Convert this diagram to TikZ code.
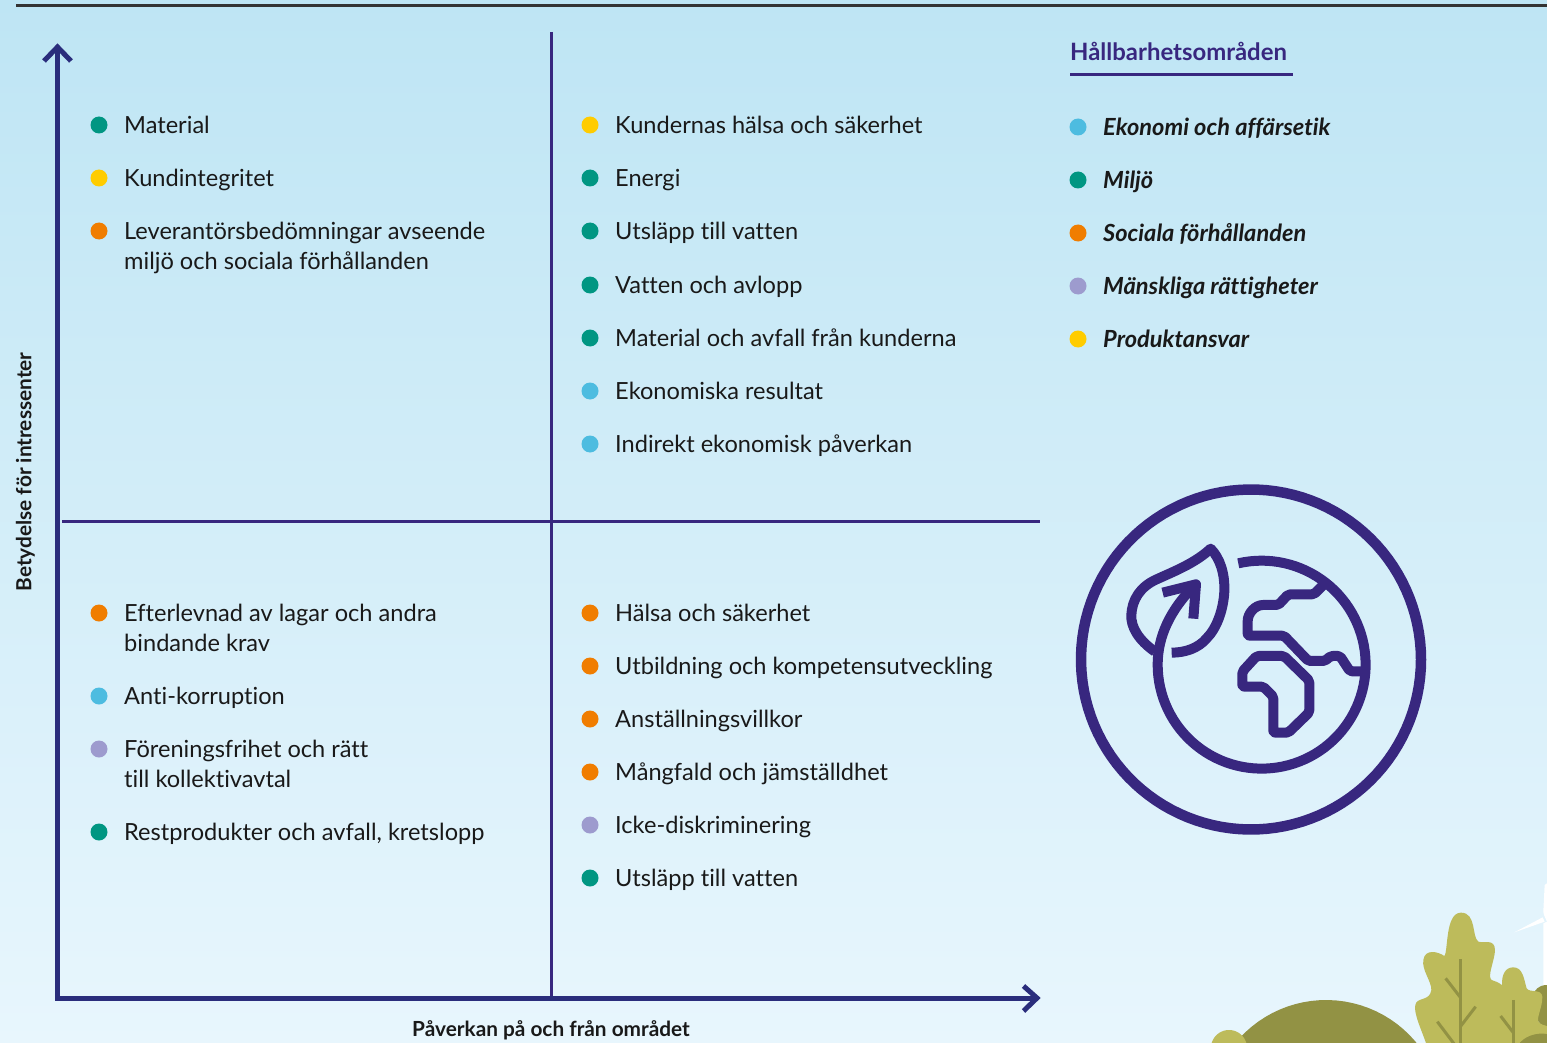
\documentclass[tikz,border=0pt]{standalone}
\usepackage{fontspec}
\setmainfont{Lato}[Ligatures=NoCommon]
\definecolor{axisnavy}{HTML}{2A2D7C}
\definecolor{deep}{HTML}{38277F}
\definecolor{teal}{HTML}{009682}
\definecolor{gold}{HTML}{FFCC00}
\definecolor{orng}{HTML}{F07D00}
\definecolor{lilac}{HTML}{9D9BCE}
\definecolor{sky}{HTML}{4DBCE0}
\definecolor{leaf}{HTML}{BDBB5B}
\definecolor{olive}{HTML}{929244}
\definecolor{bgtop}{HTML}{BEE5F4}
\definecolor{bgbot}{HTML}{E8F6FD}
\tikzset{
  dot/.style={circle,inner sep=0pt,minimum size=17pt,fill=#1},
  itemtext/.style={anchor=base west,inner sep=0pt,font=\fontsize{23.6}{30}\selectfont,text=black!90},
  legtext/.style={anchor=base west,inner sep=0pt,font=\fontsize{23.6}{30}\selectfont\bfseries\itshape,text=black!90},
  axislabel/.style={inner sep=0pt,font=\fontsize{20.8}{24}\selectfont\bfseries,text=black!90},
  axisline/.style={draw=axisnavy,line width=5pt},
  quad/.style={draw=deep,line width=3pt},
  icon/.style={draw=deep,line width=10pt,line join=round},
  stem/.style={draw=olive,line width=3pt}
}
% name, bullet x, text x, centre y, colour, text
\newcommand{\entry}[6]{%
  \node[dot=#5] (b#1) at (#2,#4) {};
  \node[itemtext] (t#1) at (#3,#4+8.5) {\begin{tabular}[t]{@{}l@{}}#6\end{tabular}};
}
\newcommand{\legentry}[4]{%
  \node[dot=#3] (lb#1) at (1078,#2) {};
  \node[legtext] (lt#1) at (1103,#2+8.5) {#4};
}
\begin{document}
\begin{tikzpicture}[x=1pt,y=-1pt]
\useasboundingbox (0,0) rectangle (1547,1043);
\shade[top color=bgtop,bottom color=bgbot,shading angle=0] (0,0) rectangle (1547,1043);
\draw[draw=black!80,line width=3pt] (16,5.3) -- (1547,5.3);

% landscape
\begin{scope}
\clip (0,0) rectangle (1547,1043);
\fill[olive] plot[domain=0:360,samples=90] ({1326+117*cos(\x)},{1117+117*sin(\x)});
\fill[leaf] plot[domain=0:360,samples=60] ({1229+18*cos(\x)},{1048+18*sin(\x)});
\begin{scope}[shift={(1200,880)},x=0.3333pt,y=-0.3333pt]
  % wind turbine
  \fill[white] (1030,130) -- (1041,125) -- (1041,330) -- (1030,330) -- cycle;
  \fill[white] (1030,95) -- (1034,15) -- (1041,10) -- (1041,125) -- (1032,105) -- cycle;
  \fill[white] (943,157) -- (1028,112) -- (1034,125) -- cycle;
  % dark bush on the right
  \fill[olive] (1003,335) .. controls (1015,318) and (1030,314) .. (1045,315) -- (1045,440) .. controls (1030,440) and (1010,430) .. (1012,410) -- cycle;
  % trees
  \fill[leaf] (680,495) .. controls (665,450) and (640,400) .. (646,375)
    .. controls (650,350) and (690,365) .. (694,330)
    .. controls (695,305) and (665,270) .. (670,240)
    .. controls (675,205) and (715,215) .. (733,228)
    .. controls (745,215) and (735,98) .. (783,98)
    .. controls (830,98) and (815,170) .. (835,185)
    .. controls (850,190) and (885,175) .. (885,210)
    .. controls (885,240) and (860,290) .. (875,300)
    .. controls (885,305) and (895,305) .. (906,316)
    .. controls (905,285) and (915,262) .. (940,262)
    .. controls (970,262) and (972,300) .. (980,325)
    .. controls (990,340) and (1025,325) .. (1027,350)
    .. controls (1028,380) and (1010,410) .. (1015,425)
    .. controls (1020,435) and (1035,435) .. (1045,440)
    -- (1045,495) -- cycle;
  \draw[stem] (781,237) -- (781,495);
  \draw[stem] (737,295) -- (781,352);
  \draw[stem] (827,380) -- (781,440);
  \draw[stem] (712,425) -- (765,495);
  \draw[stem] (940,360) -- (940,495);
  \draw[stem] (902,408) -- (940,458);
  \fill[olive] (955,495) .. controls (970,470) and (1010,455) .. (1045,463) -- (1045,495) -- cycle;
\end{scope}
\end{scope}

% quadrant lines and axes
\coordinate (origin) at (57.5,998);
\coordinate (ytip) at (57.5,47);
\coordinate (xtip) at (1037,998);
\coordinate (midtop) at (551,32);
\coordinate (midbot) at (551,998);
\coordinate (hleft) at (62,521);
\coordinate (hright) at (1040,521);
\draw[quad] (midtop) -- (midbot);
\draw[quad] (hleft) -- (hright);
\draw[axisline] (ytip) -- (origin) -- (xtip);
\draw[axisline] (44,61) -- (ytip) -- (71,61);
\draw[axisline] (1023.5,986) -- (xtip) -- (1023.5,1011);

% axis labels
\node[axislabel,rotate=90] (ylabel) at (25.5,472) {Betydelse för intressenter};
\node[axislabel] (xlabel) at (551,1030.5) {Påverkan på och från området};

% top left
\entry{a1}{99}{124}{125}{teal}{Material}
\entry{a2}{99}{124}{178}{gold}{Kundintegritet}
\entry{a3}{99}{124}{231}{orng}{Leverantörsbedömningar avseende\\miljö och sociala förhållanden}
% top right
\entry{b1}{590}{615}{125}{gold}{Kundernas hälsa och säkerhet}
\entry{b2}{590}{615}{178}{teal}{Energi}
\entry{b3}{590}{615}{231}{teal}{Utsläpp till vatten}
\entry{b4}{590}{615}{285}{teal}{Vatten och avlopp}
\entry{b5}{590}{615}{338}{teal}{Material och avfall från kunderna}
\entry{b6}{590}{615}{391}{sky}{Ekonomiska resultat}
\entry{b7}{590}{615}{444}{sky}{Indirekt ekonomisk påverkan}
% bottom left
\entry{c1}{99}{124}{613}{orng}{Efterlevnad av lagar och andra\\bindande krav}
\entry{c2}{99}{124}{696}{sky}{Anti-korruption}
\entry{c3}{99}{124}{749}{lilac}{Föreningsfrihet och rätt\\till kollektivavtal}
\entry{c4}{99}{124}{832}{teal}{Restprodukter och avfall, kretslopp}
% bottom right
\entry{d1}{590}{615}{613}{orng}{Hälsa och säkerhet}
\entry{d2}{590}{615}{666}{orng}{Utbildning och kompetensutveckling}
\entry{d3}{590}{615}{719}{orng}{Anställningsvillkor}
\entry{d4}{590}{615}{772}{orng}{Mångfald och jämställdhet}
\entry{d5}{590}{615}{825}{lilac}{Icke-diskriminering}
\entry{d6}{590}{615}{878}{teal}{Utsläpp till vatten}

% legend
\node[anchor=base west,inner sep=0pt,font=\fontsize{23.9}{28}\selectfont\bfseries,text=deep] (legtitle) at (1070,61) {Hållbarhetsområden};
\coordinate (ulA) at (1070,75);
\coordinate (ulB) at (1293,75);
\draw[quad] (ulA) -- (ulB);
\legentry{1}{127}{sky}{Ekonomi och affärsetik}
\legentry{2}{180}{teal}{Miljö}
\legentry{3}{233}{orng}{Sociala förhållanden}
\legentry{4}{286}{lilac}{Mänskliga rättigheter}
\legentry{5}{339}{gold}{Produktansvar}

% icon
\draw[icon,line width=10.5pt] plot[domain=0:360,samples=120] ({1251+170*cos(\x)},{659.5+170*sin(\x)}) -- cycle;
\begin{scope}[shift={(1060,470)},x=0.3333pt,y=-0.3333pt]
  % globe
  \draw[icon] plot[domain=-103:180,samples=90] ({605+312*cos(\x)},{584+312*sin(\x)})
     .. controls (293,500) and (330,420) .. (405,345);
  % arrow head
  \draw[icon] (308,368) -- (408,343) -- (400,446);
  % leaf
  \draw[icon] (285,545) .. controls (235,510) and (212,470) .. (214,435)
    .. controls (216,390) and (240,350) .. (290,328)
    .. controls (340,305) and (405,280) .. (452,236)
    .. controls (480,265) and (495,310) .. (493,365)
    .. controls (490,420) and (470,475) .. (440,505)
    .. controls (415,535) and (375,548) .. (335,548);
  % continents
  \draw[icon,rounded corners=2pt] (790,345) -- (762,373) -- (685,373) -- (655,405) -- (615,405)
     .. controls (585,405) and (563,430) .. (563,460) -- (563,497) -- (672,497) -- (745,573) -- (795,573) -- (812,558) -- (840,558) -- (870,604) -- (915,604);
  \draw[icon,rounded corners=2pt] (590,558) -- (672,558) -- (748,632) -- (748,727) -- (685,788) -- (640,788) -- (640,680) -- (610,650) -- (547,650) -- (547,605) -- cycle;
\end{scope}
\end{tikzpicture}
\end{document}
